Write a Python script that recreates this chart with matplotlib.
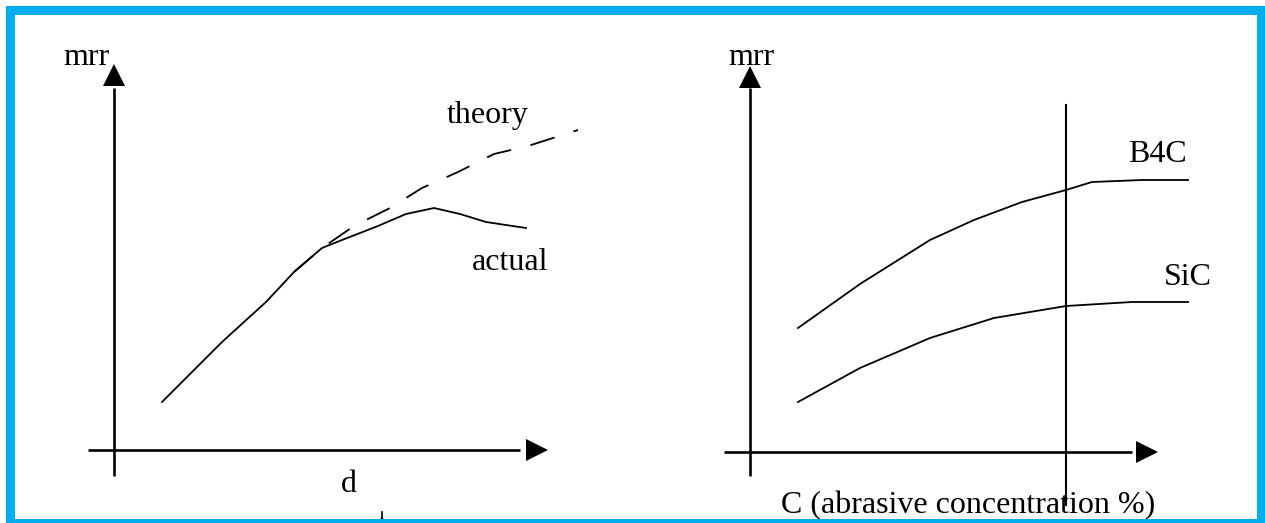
import numpy as np
import matplotlib
matplotlib.use("Agg")
import matplotlib.pyplot as plt
from matplotlib.patches import Rectangle

plt.rcParams['font.family'] = ['Liberation Serif', 'DejaVu Serif']

# left sketch: mrr against d
d_actual = [1.2, 2.7, 3.8, 4.5, 5.2, 5.7, 6.6, 7.3, 8.0, 8.65, 9.3, 10.3]
mrr_actual = [1.2, 2.7, 3.7, 4.45, 5.05, 5.25, 5.6, 5.9, 6.05, 5.9, 5.7, 5.55]
d_theory = [4.5, 5.2, 6.0, 6.9, 7.7, 8.6, 9.5, 10.35, 11.6]
mrr_theory = [4.45, 5.05, 5.6, 6.05, 6.55, 6.95, 7.4, 7.6, 8.0]

# right sketch: mrr against abrasive concentration
c_b4c = [1.2, 2.75, 4.5, 5.6, 6.8, 7.9, 8.55, 9.8, 10.95]
mrr_b4c = [3.1, 4.2, 5.3, 5.8, 6.25, 6.55, 6.75, 6.8, 6.8]
c_sic = [1.2, 2.75, 4.5, 6.1, 7.3, 7.9, 9.55, 10.95]
mrr_sic = [1.25, 2.1, 2.85, 3.35, 3.55, 3.65, 3.75, 3.75]
c_mark = 7.9

W, H = 1265, 523
S = 40.0  # pixels per unit
fig = plt.figure(figsize=(W/100, H/100), dpi=100)
fig.patch.set_facecolor('white')

def make_ax(ox, oy):
	ax = fig.add_axes([0, 0, 1, 1])
	ax.set_xlim(-ox/S, (W-ox)/S)
	ax.set_ylim((oy-H)/S, oy/S)
	ax.axis('off')
	ax.patch.set_alpha(0)
	return ax

def draw_axes(ax, x0, x1, xtip, y0, y1, ytip):
	ax.plot([x0, x1], [0, 0], color='k', lw=1.9, solid_capstyle='butt')
	ax.plot([0, 0], [y0, y1], color='k', lw=1.9, solid_capstyle='butt')
	ax.plot([xtip-0.33], [0], marker='>', color='k', ms=16, mew=0)
	ax.plot([0], [ytip-0.33], marker='^', color='k', ms=16, mew=0)

fs = 23

ax1 = make_ax(114, 450)
draw_axes(ax1, -0.65, 10.15, 10.9, -0.65, 9.05, 9.7)
ax1.plot(d_actual, mrr_actual, color='k', lw=1.3)
ax1.plot(d_theory, mrr_theory, color='k', lw=1.3, dashes=(14, 11))
ax1.text(-0.69, 9.625, 'mrr', fontsize=fs, ha='center', va='baseline')
ax1.text(9.34, 8.175, 'theory', fontsize=fs, ha='center', va='baseline')
ax1.text(9.9, 4.5, 'actual', fontsize=fs, ha='center', va='baseline')
ax1.text(5.86, -1.05, 'd', fontsize=fs, ha='center', va='baseline')
ax1.plot([6.7, 6.7], [-1.55, -1.8], color='k', lw=1.2)
ax1.plot([6.7], [-1.72], marker='^', color='k', ms=5, mew=0)

ax2 = make_ax(750, 452)
draw_axes(ax2, -0.65, 9.55, 10.25, -0.6, 9.1, 9.7)
ax2.plot(c_b4c, mrr_b4c, color='k', lw=1.3)
ax2.plot(c_sic, mrr_sic, color='k', lw=1.3)
ax2.plot([c_mark, c_mark], [-1.33, 8.68], color='k', lw=1.5)
ax2.text(0.04, 9.675, 'mrr', fontsize=fs, ha='center', va='baseline')
ax2.text(10.19, 7.25, 'B4C', fontsize=fs, ha='center', va='baseline')
ax2.text(10.94, 4.175, 'SiC', fontsize=fs, ha='center', va='baseline')
ax2.text(5.45, -1.52, 'C (abrasive concentration %)', fontsize=fs, ha='center', va='baseline')

# cyan frame
fig.patches.append(Rectangle((9.5/W, 0), (1261-9.5)/W, (H-9.5)/H, transform=fig.transFigure,
	fill=False, edgecolor='#00AEEF', lw=6.5, zorder=10))

fig.savefig('out.png', dpi=100, facecolor='white')
